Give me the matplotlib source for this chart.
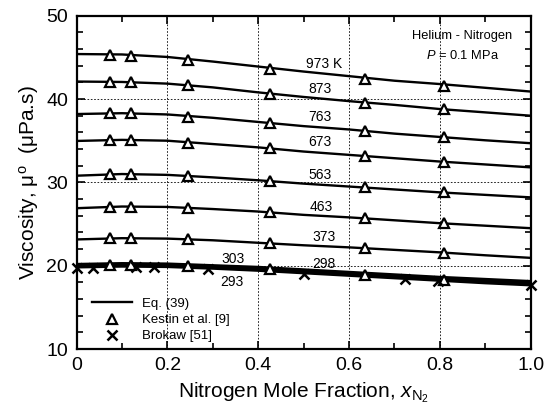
import matplotlib
matplotlib.use("Agg")
import matplotlib.pyplot as plt
from matplotlib.lines import Line2D

plt.rcParams['font.family'] = ['Liberation Sans', 'DejaVu Sans']
plt.rcParams['mathtext.fontset'] = 'custom'
plt.rcParams['mathtext.rm'] = 'Liberation Sans'
plt.rcParams['mathtext.it'] = 'Liberation Sans:italic'

# Eq. (39) curves, read at x = 0, 0.1, ..., 1.0
x_eq = [0.0, 0.1, 0.2, 0.3, 0.4, 0.5, 0.6, 0.7, 0.8, 0.9, 1.0]
eq_curves = {
    "973 K": [45.4, 45.35, 45.05, 44.5, 43.9, 43.3, 42.75, 42.2, 41.8, 41.35, 40.9],
    "873": [42.1, 42.05, 41.85, 41.4, 40.8, 40.25, 39.75, 39.3, 38.8, 38.4, 38.0],
    "763": [38.2, 38.3, 38.15, 37.75, 37.25, 36.75, 36.35, 35.85, 35.45, 35.05, 34.7],
    "673": [34.97, 35.1, 35.0, 34.6, 34.2, 33.7, 33.3, 32.9, 32.5, 32.15, 31.8],
    "563": [30.8, 31.0, 30.9, 30.6, 30.25, 29.85, 29.5, 29.15, 28.8, 28.5, 28.2],
    "463": [26.9, 27.1, 27.05, 26.8, 26.5, 26.1, 25.8, 25.45, 25.1, 24.8, 24.5],
    "373": [23.15, 23.3, 23.25, 23.05, 22.75, 22.45, 22.2, 21.9, 21.6, 21.25, 20.94],
}
# room-temperature curves (drawn heavier)
eq_low = {
    "303": [20.15, 20.25, 20.2, 20.0, 19.8, 19.5, 19.2, 18.9, 18.6, 18.35, 18.1],
    "298": [20.0, 20.1, 20.05, 19.85, 19.6, 19.3, 19.0, 18.7, 18.4, 18.15, 17.9],
    "293": [19.85, 19.95, 19.9, 19.7, 19.45, 19.15, 18.85, 18.55, 18.25, 17.95, 17.7],
}

# Kestin et al. [9]
x_kestin = [0.073, 0.12, 0.246, 0.426, 0.636, 0.81]
kestin = [
    [45.28, 45.2, 44.7, 43.6, 42.45, 41.6],
    [42.07, 42.0, 41.7, 40.6, 39.56, 38.77],
    [38.3, 38.3, 37.9, 37.1, 36.2, 35.4],
    [35.1, 35.1, 34.76, 34.1, 33.17, 32.5],
    [31.0, 31.0, 30.75, 30.2, 29.4, 28.8],
    [27.08, 27.08, 26.9, 26.45, 25.7, 25.1],
    [23.28, 23.28, 23.2, 22.7, 22.07, 21.57],
    [20.1, 20.1, 19.95, 19.55, 18.9, 18.3],
]

# Brokaw [51]
x_brokaw = [0.0, 0.037, 0.13, 0.17, 0.29, 0.50, 0.723, 0.797, 1.0]
brokaw = [19.75, 19.75, 19.85, 19.85, 19.55, 19.0, 18.4, 18.2, 17.7]

# curve labels: text, x, y
lab_text = ["973 K", "873", "763", "673", "563", "463", "373", "298", "303", "293"]
lab_x = [0.545, 0.537, 0.537, 0.537, 0.537, 0.539, 0.545, 0.545, 0.345, 0.343]
lab_y = [44.2, 41.2, 37.8, 34.8, 30.9, 27.1, 23.5, 20.15, 20.8, 18.1]

fig = plt.figure(figsize=(5.45, 4.04), dpi=100)
ax = fig.add_axes([0.1404, 0.1361, 0.8332, 0.825])

# grid
for gx in [0.2, 0.4, 0.6, 0.8]:
    ax.axvline(gx, color='black', lw=0.6, ls=(0, (2, 2)), zorder=1)
for gy in [20, 30, 40]:
    ax.axhline(gy, color='black', lw=0.6, ls=(0, (2, 2)), zorder=1)

for name, vals in eq_curves.items():
    ax.plot(x_eq, vals, color='black', lw=1.7, zorder=2)
for name, vals in eq_low.items():
    ax.plot(x_eq, vals, color='black', lw=2.3, zorder=2)

for vals in kestin:
    ax.plot(x_kestin, vals, ls='none', marker='^', ms=6.5, mfc='white',
            mec='black', mew=1.6, zorder=3)
ax.plot(x_brokaw, brokaw, ls='none', marker='x', ms=7, mec='black',
        mew=1.8, zorder=4, clip_on=False)

for t, lx, ly in zip(lab_text, lab_x, lab_y):
    ax.text(lx, ly, t, fontsize=10, ha='center', va='center', zorder=5)

ax.text(0.85, 47.6, "Helium - Nitrogen", fontsize=9.3, ha='center', va='center')
ax.text(0.85, 45.2, "$P$ = 0.1 MPa", fontsize=9.3, ha='center', va='center')

handles = [
    Line2D([], [], color='black', lw=1.7),
    Line2D([], [], ls='none', marker='^', ms=6.5, mfc='white', mec='black', mew=1.6),
    Line2D([], [], ls='none', marker='x', ms=7, mec='black', mew=1.8),
]
ax.legend(handles, ["Eq. (39)", "Kestin et al. [9]", "Brokaw [51]"],
          loc='lower left', bbox_to_anchor=(0.034, 0.02), frameon=False,
          fontsize=9.5, handlelength=3.0, handletextpad=0.8,
          labelspacing=0.3, borderpad=0, borderaxespad=0)

ax.set_xlim(0, 1.0)
ax.set_ylim(10, 50)
ax.set_xticks([0, 0.2, 0.4, 0.6, 0.8, 1.0])
ax.set_xticklabels(["0", "0.2", "0.4", "0.6", "0.8", "1.0"])
ax.set_yticks([10, 20, 30, 40, 50])
ax.set_xticks([i / 10 for i in range(11)], minor=True)
ax.set_yticks(list(range(10, 51, 2)), minor=True)
ax.tick_params(which='both', direction='in', top=True, right=True,
               labelsize=14, width=1.2)
ax.tick_params(which='major', length=6, pad=6)
ax.tick_params(which='minor', length=4)
for s in ax.spines.values():
    s.set_linewidth(1.6)

ax.set_xlabel("Nitrogen Mole Fraction, $x_{\\mathrm{N_2}}$", fontsize=15, labelpad=4)
ax.set_ylabel("Viscosity, \u03bc$^{\\mathrm{o}}$  (\u03bcPa.s)", fontsize=15, labelpad=4)

fig.savefig("out.png", dpi=100)
